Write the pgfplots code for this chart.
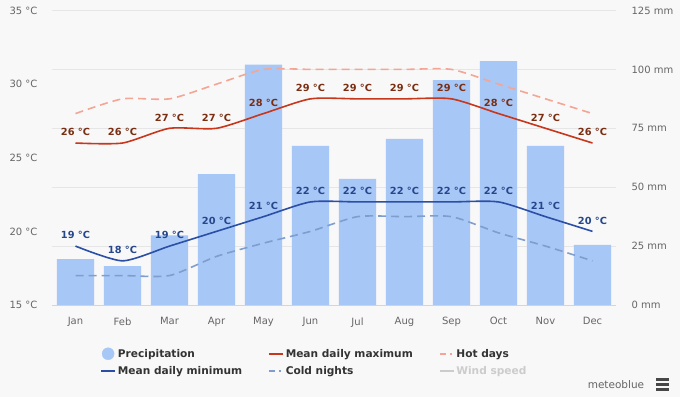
\documentclass[border=0pt]{standalone}
\usepackage{pgfplots}
\pgfplotsset{compat=1.18}
\usepackage{pgfplotstable}
\usepackage{fontspec}
\setmainfont{DejaVu Sans}
\definecolor{bg}{HTML}{F8F8F8}
\definecolor{barc}{HTML}{A7C7F7}
\definecolor{maxc}{HTML}{C8361B}
\definecolor{minc}{HTML}{2B4FA6}
\definecolor{hotc}{HTML}{F4A594}
\definecolor{coldc}{HTML}{7F9ECD}
\definecolor{maxl}{HTML}{7A2E12}
\definecolor{minl}{HTML}{27478C}
\definecolor{gridc}{HTML}{E6E6E6}
\definecolor{axc}{HTML}{CCD6EB}
\definecolor{tickc}{HTML}{666666}
\definecolor{legc}{HTML}{333333}
\definecolor{windc}{HTML}{CCCCCC}

\pgfplotstableread{
m prec tmax tmin hot cold
0 19.5 26 19 28 17
1 16.5 26 18 29 17
2 29.5 27 19 29 17
3 55.5 27 20 30 18.3
4 102 28 21 31 19.2
5 67.5 29 22 31 20
6 53.5 29 22 31 21
7 70.5 29 22 31 21
8 95.5 29 22 31 21
9 103.5 28 22 30 19.9
10 67.5 27 21 29 19
11 25.5 26 20 28 18
}\datatable

\pgfplotsset{/pgf/number format/assume math mode=true}

\begin{document}
\begin{tikzpicture}[x=1pt,y=1pt]
\useasboundingbox (0,0) rectangle (680,397);
\fill[bg] (0,0) rectangle (680,397);
\begin{axis}[
  at={(52pt,92pt)}, anchor=south west, scale only axis,
  width=564pt, height=294.5pt,
  xmin=-0.5, xmax=11.5, ymin=0, ymax=125,
  xtick={0,...,11},
  xticklabels={Jan,Feb,Mar,Apr,May,Jun,Jul,Aug,Sep,Oct,Nov,Dec},
  ytick={0,25,...,125},
  yticklabel={\pgfmathprintnumber{\tick} mm},
  axis x line*=bottom, axis y line*=right,
  x axis line style={axc,-,line width=0.8pt},
  y axis line style={draw=none},
  major tick length=0pt,
  ymajorgrids, grid style={gridc,line width=0.8pt},
  tick label style={font=\fontsize{10}{12}\selectfont, text=tickc},
  yticklabel style={anchor=west, xshift=12pt},
  xticklabel style={yshift=-9pt},
]
\addplot[ybar, bar width=0.79, fill=barc, draw=none] table[x=m, y=prec] {\datatable};
\end{axis}
\begin{axis}[
  at={(52pt,92pt)}, anchor=south west, scale only axis,
  width=564pt, height=294.5pt,
  xmin=-0.5, xmax=11.5, ymin=15, ymax=35,
  axis x line=none, axis y line*=left,
  y axis line style={draw=none},
  major tick length=0pt,
  ytick={15,20,...,35},
  yticklabel={\pgfmathprintnumber{\tick} °C},
  tick label style={font=\fontsize{10}{12}\selectfont, text=tickc},
  yticklabel style={anchor=east, xshift=-11pt},
  legend columns=3,
  legend style={at={(axis description cs:0.08,-0.135)}, anchor=north west,
    draw=none, fill=none, font=\bfseries\fontsize{10.6}{12}\selectfont, text=legc,
    /tikz/every even column/.append style={column sep=24pt},
    cells={anchor=west, inner xsep=5pt}, row sep=4pt},
]
\addplot[hotc, line width=1.6pt, dash pattern=on 8pt off 5pt, smooth, tension=0.4, forget plot] table[x=m, y=hot] {\datatable};
\addplot[coldc, line width=1.6pt, dash pattern=on 8pt off 5pt, smooth, tension=0.4, forget plot] table[x=m, y=cold] {\datatable};
\addplot[maxc, line width=1.6pt, smooth, tension=0.4, forget plot,
  nodes near coords={\pgfmathprintnumber[fixed,precision=0]{\pgfplotspointmeta}~°C},
  every node near coord/.style={font=\bfseries\fontsize{9.8}{11}\selectfont, text=maxl, anchor=south, yshift=3pt}]
  table[x=m, y=tmax] {\datatable};
\addplot[minc, line width=1.6pt, smooth, tension=0.4, forget plot,
  nodes near coords={\pgfmathprintnumber[fixed,precision=0]{\pgfplotspointmeta}~°C},
  every node near coord/.style={font=\bfseries\fontsize{9.8}{11}\selectfont, text=minl, anchor=south, yshift=3pt}]
  table[x=m, y=tmin] {\datatable};
\addlegendimage{legend image code/.code={\fill[barc] (7pt,0pt) circle (6pt);}}
\addlegendentry{Precipitation}
\addlegendimage{legend image code/.code={\draw[maxc, line width=1.6pt] (0pt,0pt) -- (14pt,0pt);}}
\addlegendentry{Mean daily maximum}
\addlegendimage{legend image code/.code={\draw[hotc, line width=1.6pt] (0pt,0pt) -- (6pt,0pt) (10pt,0pt) -- (12pt,0pt);}}
\addlegendentry{Hot days}
\addlegendimage{legend image code/.code={\draw[minc, line width=1.6pt] (0pt,0pt) -- (14pt,0pt);}}
\addlegendentry{Mean daily minimum}
\addlegendimage{legend image code/.code={\draw[coldc, line width=1.6pt] (0pt,0pt) -- (6pt,0pt) (10pt,0pt) -- (12pt,0pt);}}
\addlegendentry{Cold nights}
\addlegendimage{legend image code/.code={\draw[windc, line width=1.6pt] (0pt,0pt) -- (14pt,0pt);}}
\addlegendentry{\textcolor{windc}{Wind speed}}
\end{axis}
\node[text=tickc, font=\fontsize{10.5}{12}\selectfont] at (616,12) {meteoblue};
\fill[tickc!70!black] (656,16.5) rectangle (669,19);
\fill[tickc!70!black] (656,11.5) rectangle (669,14);
\fill[tickc!70!black] (656,6.5) rectangle (669,9);
\end{tikzpicture}
\end{document}
